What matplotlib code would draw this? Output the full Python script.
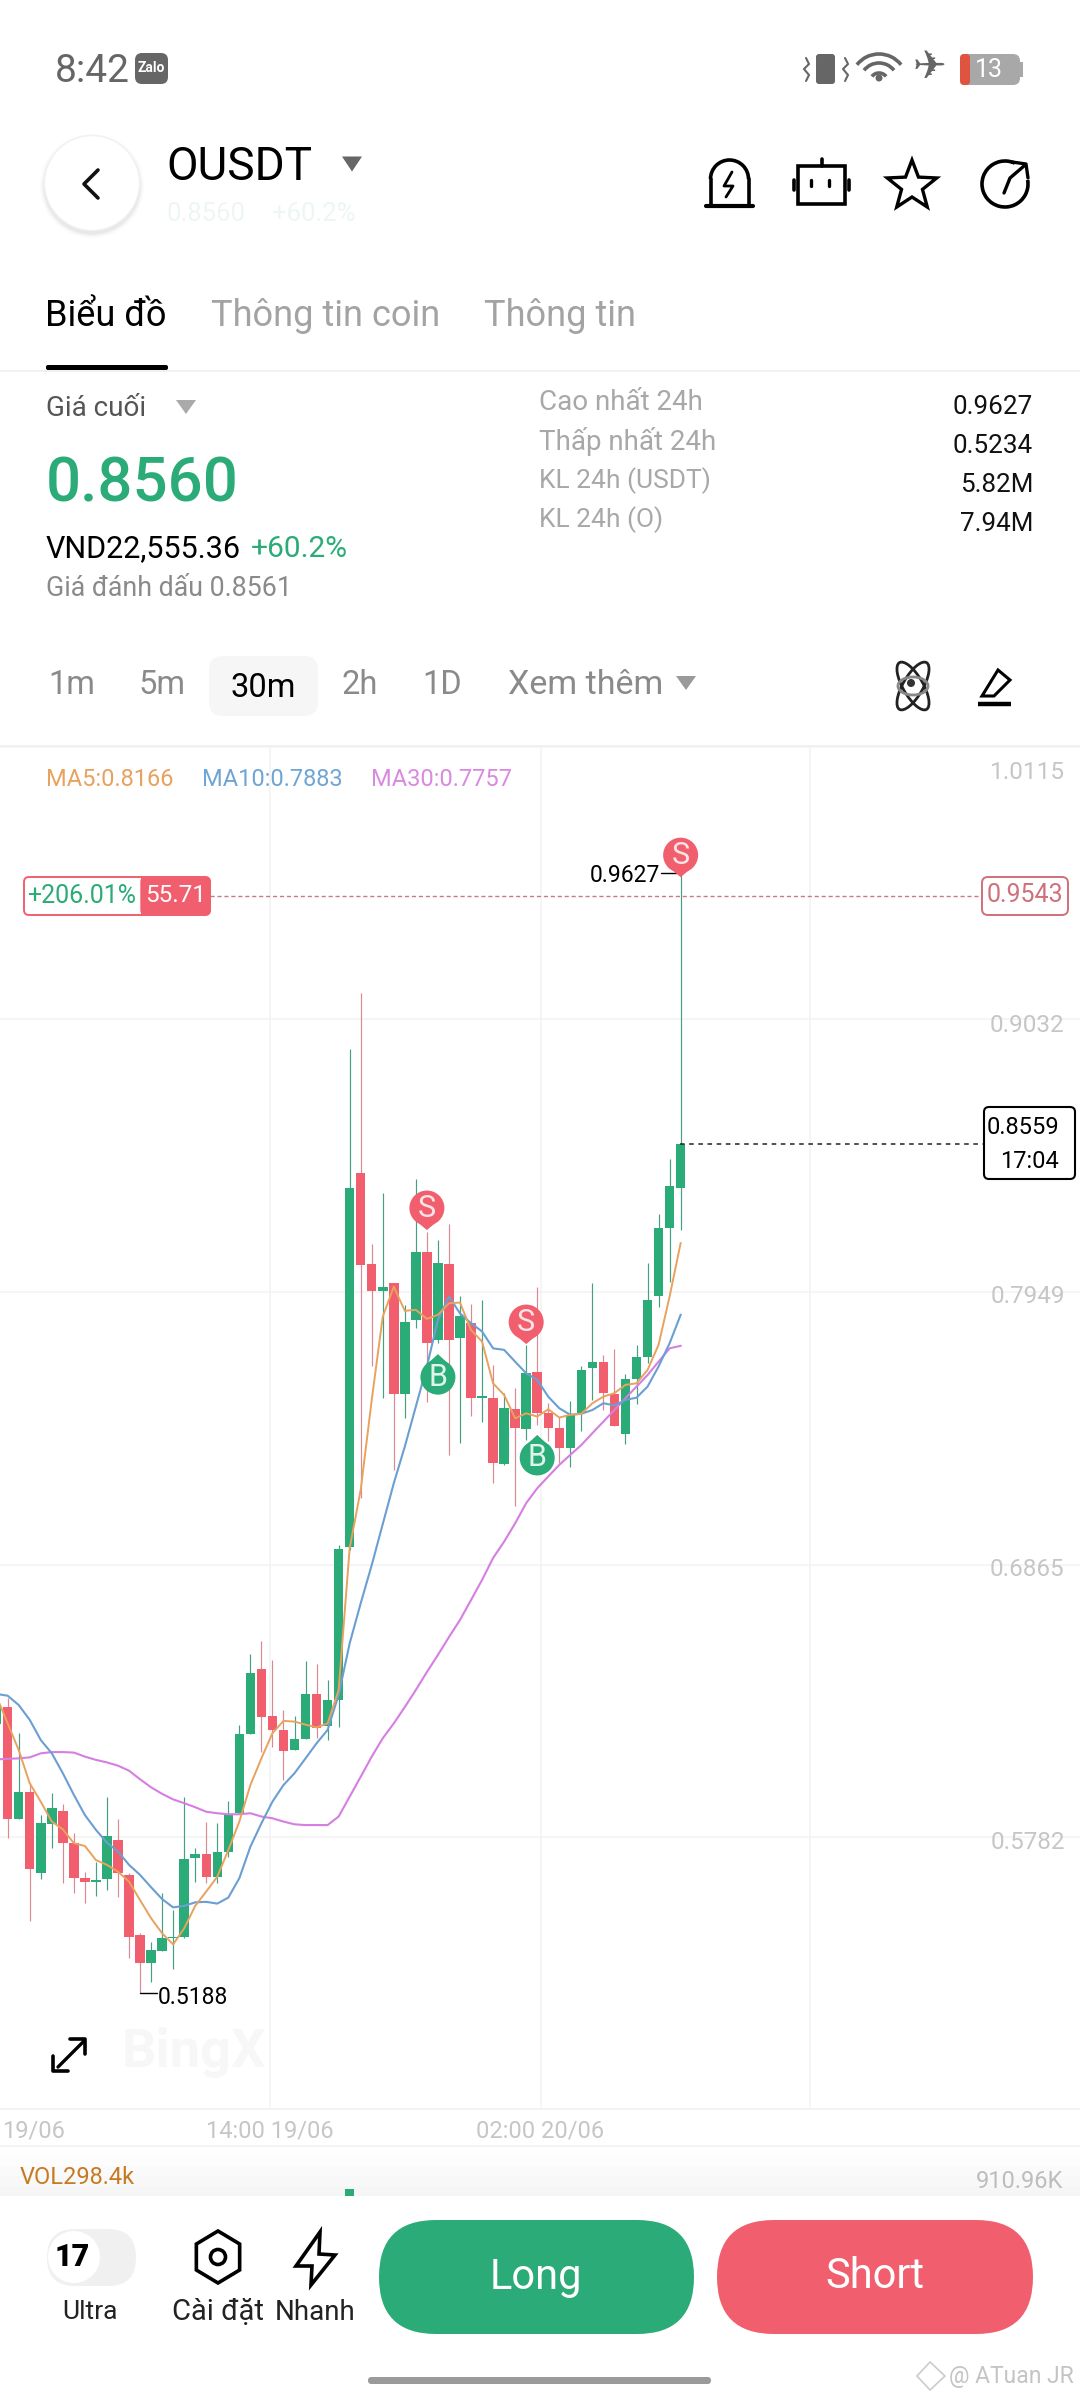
import math
import numpy as np
import matplotlib
matplotlib.use("Agg")
import matplotlib.pyplot as plt
from matplotlib.patches import FancyBboxPatch, Circle, Polygon, Rectangle, Ellipse, Arc

plt.rcParams['font.family'] = ['Roboto', 'Noto Sans', 'DejaVu Sans']

# ---------- data ----------
opens = [.6232,.6301,.5854,.5960,.5641,.5834,.5886,.5758,.5620,.5605,.5616,.5771,.5633,.5392,.5281,.5329,.5380,.5387,.5699,.5715,.5625,
         .5725,.5879,.6192,.6450,.6264,.6208,.6128,.6172,.6350,.6225,.6327,.6936,.8422,.8058,.7950,.7983,.7542,.7837,.8106,.7758,.8059,.7764,
         .7824,.7527,.7528,.7265,.7482,.7404,.7629,.7466,.7409,.7327,.7469,.7644,.7670,.7543,.7383,.7601,.7691,.7930,.8204,.8361]
closes = [.6301,.5854,.5960,.5657,.5837,.5899,.5759,.5621,.5603,.5606,.5785,.5641,.5387,.5281,.5334,.5380,.5387,.5697,.5715,.5623,.5725,
          .5870,.6192,.6436,.6258,.6208,.6126,.6172,.6351,.6215,.6327,.6927,.8360,.8055,.7950,.7969,.7542,.7830,.8106,.7744,.8062,.7758,.7853,
          .7528,.7530,.7270,.7487,.7409,.7628,.7469,.7407,.7327,.7460,.7638,.7670,.7548,.7416,.7601,.7689,.7916,.8201,.8367,.8536]
highs = [.6327,.6334,.6195,.5996,.5870,.5956,.5914,.5797,.5642,.5685,.5940,.5853,.5638,.5403,.5367,.5559,.5493,.5940,.5738,.5844,.5837,
         .5927,.6228,.6510,.6563,.6486,.6287,.6264,.6483,.6470,.6407,.6943,.8913,.9136,.8139,.8343,.7983,.7897,.8396,.8188,.8155,.8217,.7930,
         .7899,.7916,.7658,.7546,.7565,.7738,.7969,.7506,.7453,.7513,.7652,.7985,.7698,.7720,.7622,.7738,.8062,.8257,.8475,.9627]
lows = [.6208,.5778,.5854,.5449,.5615,.5740,.5601,.5559,.5519,.5548,.5572,.5546,.5301,.5162,.5205,.5329,.5257,.5380,.5605,.5601,.5599,
        .5705,.5877,.6192,.6122,.6142,.6009,.6128,.6172,.6175,.6168,.6221,.6923,.7128,.7652,.7526,.7241,.7446,.7804,.7509,.7744,.7301,.7347,
        .7457,.7433,.7191,.7261,.7098,.7358,.7420,.7354,.7268,.7254,.7397,.7519,.7479,.7416,.7344,.7503,.7665,.7887,.7989,.8195]
ma5 = [.6340,.6234,.6128,.5996,.5923,.5844,.5813,.5758,.5747,.5691,.5672,.5645,.5605,.5532,.5460,.5400,.5356,.5420,.5509,.5566,.5625,
       .5731,.5844,.5989,.6095,.6195,.6244,.6241,.6229,.6218,.6234,.6367,.6930,.7162,.7519,.7850,.7969,.7873,.7877,.7841,.7857,.7903,.7906,
       .7797,.7751,.7585,.7539,.7446,.7466,.7453,.7482,.7449,.7460,.7464,.7506,.7532,.7546,.7579,.7585,.7638,.7738,.7930,.8142]
ma10 = [.6351,.6344,.6307,.6248,.6168,.6115,.6036,.5950,.5870,.5811,.5760,.5725,.5672,.5632,.5583,.5536,.5503,.5509,.5523,.5525,.5518,
        .5542,.5619,.5744,.5837,.5923,.5989,.6036,.6095,.6155,.6208,.6347,.6552,.6711,.6863,.7026,.7188,.7334,.7493,.7652,.7837,.7930,.7863,
        .7824,.7791,.7724,.7718,.7671,.7625,.7599,.7532,.7486,.7460,.7464,.7479,.7506,.7497,.7519,.7528,.7572,.7652,.7744,.7857]
ma30 = [.6091,.6093,.6095,.6099,.6115,.6120,.6120,.6118,.6102,.6089,.6079,.6066,.6046,.6012,.5980,.5954,.5932,.5917,.5901,.5883,.5877,
        .5873,.5873,.5877,.5864,.5857,.5844,.5833,.5830,.5830,.5830,.5864,.5943,.6022,.6102,.6175,.6234,.6299,.6367,.6438,.6506,.6577,.6645,
        .6724,.6804,.6891,.6956,.7029,.7109,.7168,.7215,.7261,.7301,.7340,.7387,.7433,.7479,.7526,.7572,.7618,.7671,.7724,.7734]
price_ticks = [1.0115, .9032, .7949, .6865, .5782]
time_tick_pos = [24.8, 49.3, 73.7]
time_tick_labels = ['14:00 19/06', '02:00 20/06', '']
sell_idx = [39, 48, 62]
sell_tip = [.8194, .7741, .9596]
buy_idx = [40, 49]
buy_tip = [.7701, .7380]
vol_idx = [32]
vol_val = [910.96]

GREEN = '#2bab77'
RED = '#f15f6e'
GREEN_W = '#459f83'
RED_W = '#dc8792'
W, H = 1080, 2400

fig = plt.figure(figsize=(W / 100, H / 100), dpi=100, facecolor='white')

# ---------- chart ----------
CH_TOP, CH_BOT = 746, 2108
ax = fig.add_axes([0, 1 - CH_BOT / H, 1, (CH_BOT - CH_TOP) / H], zorder=1)
ax.set_xlim(0.305, 98.2)
ax.set_ylim(.4706, 1.0117)
for s in ax.spines.values():
    s.set_visible(False)
ax.set_axisbelow(True)
ax.grid(True, which='major', color='#f3f3f3', lw=1.2)
ax.set_yticks(price_ticks)
ax.set_yticklabels([])
ax.tick_params(axis='y', length=0)
ax.set_xticks(time_tick_pos)
ax.set_xticklabels(time_tick_labels, color='#c6c6c6', fontsize=17)
ax.set_xticks([3.3], labels=['19/06'], minor=True, color='#c6c6c6', fontsize=17)
ax.tick_params(axis='x', which='both', length=0, pad=8.5)
for p, dy in zip(price_ticks, [-18.5, -4.5, -3.5, -3.5, -3.5]):
    ax.annotate(f'{p:.4f}', (1, p), xycoords=('axes fraction', 'data'), xytext=(-11, dy),
                textcoords='offset points', ha='right', va='center', color='#c6c6c6', fontsize=17.5)

idx = np.arange(len(opens))
o, c, h_, l_ = map(np.array, (opens, closes, highs, lows))
up = c >= o
ax.vlines(idx[up], l_[up], h_[up], color=GREEN_W, lw=0.85, zorder=2)
ax.vlines(idx[~up], l_[~up], h_[~up], color=RED_W, lw=0.85, zorder=2)
bw = 0.86
ax.bar(idx[up], np.maximum(c[up] - o[up], .0006), bottom=o[up], width=bw, color=GREEN, zorder=3)
ax.bar(idx[~up], (o - c)[~up], bottom=c[~up], width=bw, color=RED, zorder=3)
ax.plot(idx, ma30, color='#d67ee2', lw=1.5, zorder=4)
ax.plot(idx, ma10, color='#6b9fd2', lw=1.5, zorder=5)
ax.plot(idx, ma5, color='#e8a25e', lw=1.4, zorder=6)

# volume strip
axv = fig.add_axes([0, 1 - 2196 / H, 1, 50 / H], zorder=1)
axv.set_xlim(ax.get_xlim())
axv.set_ylim(900, 978)
axv.axis('off')
for j, shade in enumerate(('#fefefe', '#fcfcfc', '#fafafa', '#f8f8f8', '#f6f6f6')):
    axv.add_patch(Rectangle((0, 0.8 - j * 0.2), 1, 0.2, transform=axv.transAxes, fc=shade, ec='none', zorder=0))
axv.bar(vol_idx, vol_val, width=bw, color=GREEN, zorder=2)

# ---------- overlay in pixels ----------
ui = fig.add_axes([0, 0, 1, 1], zorder=3)
ui.set_xlim(0, W)
ui.set_ylim(H, 0)
ui.axis('off')
ui.patch.set_alpha(0)


def T(x, y, s, size, color='#000000', ha='left', va='center', **kw):
    return ui.text(x, y, s, fontsize=size, color=color, ha=ha, va=va, **kw)


def L(xs, ys, color='black', lw=2.2, **kw):
    kw.setdefault('solid_capstyle', 'round')
    ui.plot(xs, ys, color=color, lw=lw, **kw)


def RR(x0, y0, x1, y1, r, fc='none', ec='none', lw=0, z=2):
    ui.add_patch(FancyBboxPatch((x0, y0), x1 - x0, y1 - y0, boxstyle=f'round,pad=0,rounding_size={r}',
                                fc=fc, ec=ec, lw=lw, zorder=z))


def TRI(cx, cy, w, h, color):
    ui.add_patch(Polygon([(cx - w / 2, cy - h / 2), (cx + w / 2, cy - h / 2), (cx, cy + h / 2)], fc=color, ec='none'))


def px(i, p):
    a = ax.transData.transform((i, p))
    return ui.transData.inverted().transform(a)


# rules
ui.add_patch(Rectangle((0, 2108), W, 2, fc='#f3f3f3', ec='none'))
ui.add_patch(Rectangle((0, 2145), W, 2, fc='#f3f3f3', ec='none'))

# status bar
T(55, 71, '8:42', 28, '#666666')
RR(135, 53, 168, 84, 7, fc='#666666')
T(151.5, 68, 'Zalo', 10, 'white', ha='center', fontweight='bold')
RR(816, 54, 835, 84, 3, fc='#666666')
for sx in (806, 845):
    L([sx, sx + 3, sx - 2, sx + 3, sx], [58, 64, 69, 75, 81], '#666666', 1.5)
for r in (9, 19, 28):
    ui.add_patch(Arc((879, 82), 2 * r, 2 * r, theta1=218, theta2=322, color='#666666', lw=2.6))
ui.add_patch(Circle((879, 78), 3.5, fc='#666666'))
T(930, 68, '\u2708', 29, '#666666', ha='center', family='DejaVu Sans')
RR(960, 54, 1020, 85, 7, fc='#a8a8a8')
RR(960, 54, 970, 85, 4, fc='#e0533f')
ui.add_patch(Rectangle((1020, 62), 3, 15, fc='#a8a8a8', ec='none'))
T(989, 70, '13', 18, 'white', ha='center')

# header
for rr, a in ((52, .02), (50, .03), (48.5, .04)):
    ui.add_patch(Circle((92, 186), rr, fc='#000000', ec='none', alpha=a))
ui.add_patch(Circle((92, 183), 47.5, fc='white', ec='#f1f1f1', lw=1))
L([98, 84, 98], [170, 184, 198], '#111111', 2.6)
T(166, 167, 'OUSDT', 33, 'black')
TRI(352, 164, 20, 15, '#666666')
T(167, 214, '0.8560', 18.5, '#eef6f3')
T(272, 214, '+60.2%', 18.5, '#eef6f3')

# alarm icon
ui.add_patch(Arc((729.5, 179), 38, 38, theta1=180, theta2=360, color='black', lw=2.6))
L([710.5, 710.5], [179, 206], lw=2.6)
L([748.5, 748.5], [179, 206], lw=2.6)
L([706, 753], [206, 206], lw=3)
L([732, 724, 733, 726], [172, 186, 186, 197], lw=2)
# robot icon
ui.add_patch(Rectangle((798, 166), 47, 38, fc='none', ec='black', lw=2.6))
L([822, 822], [159, 166], lw=2.6)
L([794, 794], [180, 190], lw=2.6)
L([849, 849], [180, 190], lw=2.6)
L([811, 811], [180, 186], lw=2.4)
L([829, 829], [180, 186], lw=2.4)
# star icon
star = [(912 + (26 if j % 2 == 0 else 11) * math.sin(j * math.pi / 5),
         186 - (26 if j % 2 == 0 else 11) * math.cos(j * math.pi / 5)) for j in range(10)]
ui.add_patch(Polygon(star, fc='none', ec='black', lw=2.4, joinstyle='miter'))
# refresh/share icon
ui.add_patch(Arc((1005, 184), 46, 46, theta1=-10, theta2=295, color='black', lw=2.6))
L([1004, 1010, 1024], [193, 178, 166], lw=2.4)
L([1012, 1026, 1028], [162, 164, 178], lw=2.4)

# tabs
T(45, 316, 'Biểu đồ', 26, 'black')
T(211, 316, 'Thông tin coin', 26, '#a3a3a3')
T(484, 316, 'Thông tin', 26, '#a3a3a3')
RR(46, 365, 168, 370, 2, fc='black')
ui.add_patch(Rectangle((0, 370), W, 2, fc='#f1f1f1', ec='none'))

# summary
T(46, 408, 'Giá cuối', 20, '#555555')
TRI(186, 407, 20, 14, '#aaaaaa')
T(46, 485, '0.8560', 44.5, GREEN, fontweight='medium')
T(46, 549, 'VND22,555.36', 22, 'black')
T(251, 549, '+60.2%', 21.5, GREEN)
T(46, 589, 'Giá đánh dấu 0.8561', 19.3, '#8a8a8a')
for y, s, fs in zip((403, 442, 481, 520), ('Cao nhất 24h', 'Thấp nhất 24h', 'KL 24h (USDT)', 'KL 24h (O)'), (20, 20, 19, 19)):
    T(539, y, s, fs, '#a8a8a8')
for y, s in zip((407, 446, 485, 524), ('0.9627', '0.5234', '5.82M', '7.94M')):
    T(1033, y, s, 18.7, '#111111', ha='right')

# timeframe bar
RR(209, 656, 318, 716, 14, fc='#f6f6f6')
for x, s in ((72, '1m'), (162, '5m'), (360, '2h'), (442, '1D')):
    T(x, 685, s, 23.5, '#8a8a8a', ha='center')
T(263, 688, '30m', 23.5, 'black', ha='center')
T(508, 685, 'Xem thêm', 24.5, '#8a8a8a')
TRI(686, 683, 20, 14, '#9a9a9a')
for ang, col in ((60, '#222222'), (-60, '#222222'), (0, '#888888')):
    ui.add_patch(Ellipse((913, 686), 54 if ang else 30, 20 if ang else 18, angle=ang, fc='none', ec=col, lw=2))
ui.add_patch(Circle((911, 683), 4, fc='#333333'))
ui.add_patch(Polygon([(982, 696), (998, 670), (1010, 680), (994, 696)], fc='none', ec='black', lw=2.2))
L([978, 1011], [704, 704], lw=3.2, solid_capstyle='butt')

# chart top rule and MA legend
ui.add_patch(Rectangle((0, 745), W, 2, fc='#f1f1f1', ec='none'))
T(46, 780, 'MA5:0.8166', 17, '#e8a25e')
T(202, 780, 'MA10:0.7883', 17, '#6fa5d6')
T(371, 780, 'MA30:0.7757', 17, '#d98ae0')

# position / price boxes
L([210, 982], [896, 896], '#c97b85', 1, linestyle=(0, (3, 2)), zorder=1.5)
RR(24, 877, 210, 915, 5, fc='white', ec=RED, lw=1.4)
RR(141, 877, 210, 915, 5, fc=RED, ec=RED, lw=1)
ui.add_patch(Rectangle((141, 878), 12, 36, fc=RED, ec='none', zorder=2.5))
T(82, 896, '+206.01%', 18, GREEN, ha='center', zorder=4)
T(176, 896, '55.71', 17.5, 'white', ha='center', zorder=4)
RR(982, 877, 1068, 915, 6, fc='white', ec='#d0707a', lw=1.4)
T(1025, 895, '0.9543', 18, '#d0707a', ha='center', zorder=4)
L([680, 984], [1144, 1144], '#222222', 1.1, linestyle=(0, (3, 3)), zorder=1.5)
RR(984, 1107, 1075, 1179, 5, fc='white', ec='black', lw=1.5)
T(1059, 1128, '0.8559', 17, 'black', ha='right', zorder=4)
T(1059, 1162, '17:04', 17, 'black', ha='right', zorder=4)

# extrema labels
T(660, 876, '0.9627', 16.5, 'black', ha='right', zorder=4)
L([661, 676], [873, 873], 'black', 1)
L([140, 157], [1993, 1993], 'black', 1)
T(158, 1997, '0.5188', 16.5, 'black', zorder=4)

# trade markers placed from the data
for i, p in zip(sell_idx, sell_tip):
    x, y = px(i, p)
    cy = y - 22
    ui.add_patch(Polygon([(x - 12, cy + 12), (x + 12, cy + 12), (x, y)], fc=RED, ec='none', zorder=7))
    ui.add_patch(Circle((x, cy), 17.5, fc=RED, ec='none', zorder=7))
    T(x, cy, 'S', 22, '#fbe3e6', ha='center', zorder=8)
for i, p in zip(buy_idx, buy_tip):
    x, y = px(i, p)
    cy = y + 23
    ui.add_patch(Polygon([(x - 12, cy - 12), (x + 12, cy - 12), (x, y)], fc=GREEN, ec='none', zorder=7))
    ui.add_patch(Circle((x, cy), 17.5, fc=GREEN, ec='none', zorder=7))
    T(x, cy, 'B', 22, '#def5ea', ha='center', zorder=8)

# expand icon + watermark
L([58, 84], [2067, 2041], 'black', 2.4)
L([70, 85, 85], [2039, 2039, 2054], 'black', 2.6)
L([53, 53, 68], [2056, 2071, 2071], 'black', 2.6)
T(122, 2053, 'BingX', 39, '#f7f7f7', fontweight='bold')

# vol labels
T(20, 2177, 'VOL298.4k', 17, '#c87a22')
T(1063, 2181, '910.96K', 17, '#bdbdbd', ha='right')

# bottom panel
ui.add_patch(Rectangle((0, 2196), W, 204, fc='white', ec='none', zorder=1))
RR(47, 2229, 136, 2286, 28, fc='#f0f0f0')
ui.add_patch(Circle((74, 2257), 26, fc='white', ec='none', zorder=3))
T(72, 2257, '17', 22, 'black', ha='center', fontweight='black', zorder=4)
T(90, 2312, 'Ultra', 19, '#222222', ha='center')
T(218, 2312, 'Cài đặt', 21, '#222222', ha='center')
T(315, 2312, 'Nhanh', 20, '#222222', ha='center')
hexa = [(218 + 25 * math.sin(j * math.pi / 3), 2257 - 26 * math.cos(j * math.pi / 3)) for j in range(6)]
ui.add_patch(Polygon(hexa, fc='none', ec='black', lw=2.6, zorder=3))
ui.add_patch(Circle((218, 2257), 7.5, fc='none', ec='black', lw=2.6, zorder=3))
ui.add_patch(Polygon([(320, 2232), (296, 2266), (312, 2266), (311, 2285), (335, 2255), (319, 2254)],
                     fc='none', ec='black', lw=2.6, zorder=3))
RR(379, 2220, 694, 2334, 57, fc=GREEN)
RR(717, 2220, 1033, 2334, 57, fc=RED)
T(536, 2278, 'Long', 30, 'white', ha='center', zorder=4)
T(875, 2276, 'Short', 30, 'white', ha='center', zorder=4)
RR(368, 2377, 711, 2384, 3.5, fc='#9a9a9a')
T(949, 2376, '@ ATuan JR', 16.5, '#c4c4c4', zorder=4)
ui.add_patch(Polygon([(930, 2362), (945, 2376), (930, 2390), (917, 2376)], fc='none', ec='#cccccc', lw=1.2))

fig.savefig('out.png', dpi=100, facecolor='white')
